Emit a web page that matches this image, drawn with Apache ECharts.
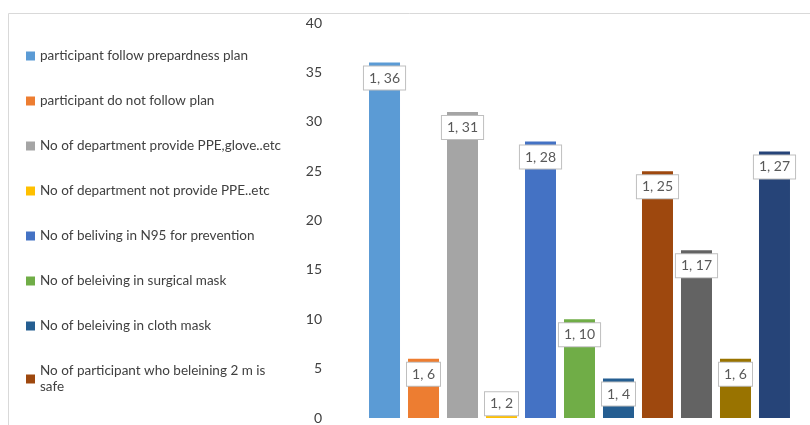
<!DOCTYPE html>
<html>
<head>
<meta charset="utf-8">
<script src="https://cdn.jsdelivr.net/npm/echarts@6/dist/echarts.min.js"></script>
<style>
html,body{margin:0;padding:0;background:#fff;}
#c{width:810px;height:425px;}
</style>
</head>
<body>
<div id="c"></div>
<script>
const categories = ['1'];
const seriesNames = [
  'participant follow prepardness plan',
  'participant do not follow plan',
  'No of department provide PPE,glove..etc',
  'No of department not provide PPE..etc',
  'No of beliving in N95 for prevention',
  'No of beleiving in surgical mask',
  'No of beleiving in cloth mask',
  'No of participant who beleining 2 m is safe',
  'Series 9',
  'Series 10',
  'Series 11'
];
const values = [36, 6, 31, 2, 28, 10, 4, 25, 17, 6, 27];
const legendShown = seriesNames.slice(0, 8);
const yTicks = { min: 0, max: 40, interval: 5 };

const colors = ['#5B9BD5','#ED7D31','#A5A5A5','#FFC000','#4472C4','#70AD47','#255E91','#9E480E','#636363','#997300','#264478'];
const FONT = 'Lato';

const chart = echarts.init(document.getElementById('c'), null, {renderer: 'canvas'});

const series = seriesNames.map((name, i) => {
  const label = {
    show: true,
    formatter: '{b}, {c}',
    position: 'insideTop',
    distance: 4,
    backgroundColor: '#ffffff',
    borderColor: '#BFBFBF',
    borderWidth: 1,
    padding: [4, 5, 4, 5],
    color: '#595959',
    fontSize: 14,
    lineHeight: 15,
    fontFamily: FONT
  };
  if (values[i] < 3) { label.offset = [0, -10]; }
  return {
    name: name,
    type: 'bar',
    barWidth: 31,
    barGap: '25.8%',
    itemStyle: { color: colors[i] },
    label: label,
    data: [values[i]]
  };
});

chart.setOption({
  animation: false,
  color: colors,
  textStyle: { fontFamily: FONT },
  graphic: [{
    type: 'rect',
    shape: { x: 8.5, y: 13.5, width: 840, height: 450 },
    style: { fill: 'none', stroke: '#D9D9D9', lineWidth: 1 },
    silent: true,
    z: -10
  }],
  legend: {
    data: legendShown,
    orient: 'vertical',
    left: 26,
    top: 48,
    height: 420,
    padding: 0,
    itemWidth: 9,
    itemHeight: 9,
    itemGap: 29,
    itemTextGap: 3,
    icon: 'rect',
    textStyle: {
      fontFamily: FONT,
      fontSize: 13.5,
      color: '#404040',
      width: 247,
      overflow: 'break',
      lineHeight: 16
    }
  },
  grid: { left: 350, right: 1, top: 23, bottom: 7, containLabel: false },
  xAxis: {
    type: 'category',
    data: categories,
    axisLine: { show: false },
    axisTick: { show: false },
    axisLabel: { show: false }
  },
  yAxis: {
    type: 'value',
    min: yTicks.min,
    max: yTicks.max,
    interval: yTicks.interval,
    axisLine: { show: false },
    axisTick: { show: false },
    splitLine: { show: false },
    axisLabel: { color: '#404040', fontSize: 14, fontFamily: FONT, margin: 28 }
  },
  series: series
});
</script>
</body>
</html>
